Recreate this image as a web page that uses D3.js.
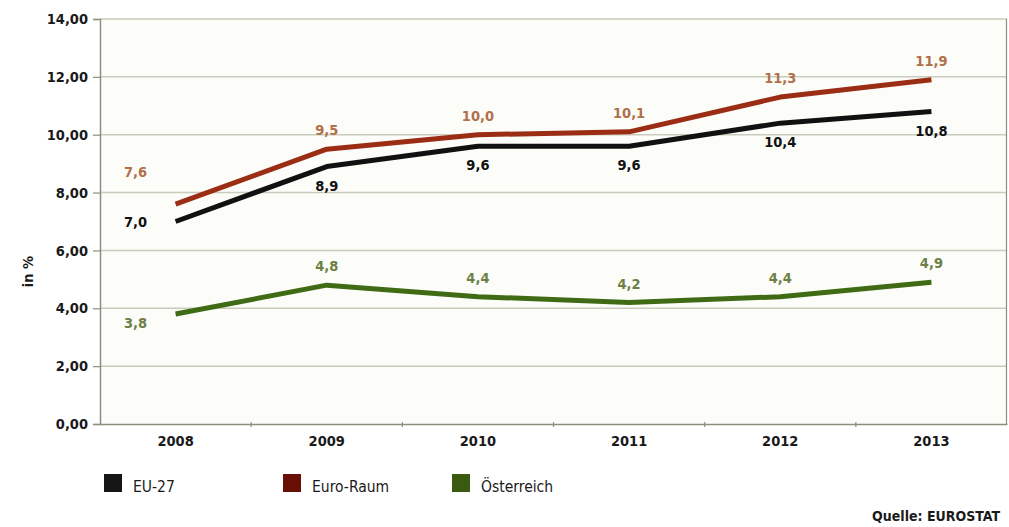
<!DOCTYPE html>
<html>
<head>
<meta charset="utf-8">
<script src="https://cdn.jsdelivr.net/npm/d3@7"></script>
<style>
  html, body { margin: 0; padding: 0; background: #ffffff; }
  svg { display: block; }
  text { font-family: "DejaVu Sans Condensed", "DejaVu Sans", sans-serif; font-weight: bold; }
</style>
</head>
<body>
<svg id="chart" width="1009" height="527"></svg>
<script>
// Arbeitslosenquote 2008–2013 (in %)
const years = ["2008", "2009", "2010", "2011", "2012", "2013"];
const eu27 = [7.0, 8.9, 9.6, 9.6, 10.4, 10.8];
const euroRaum = [7.6, 9.5, 10.0, 10.1, 11.3, 11.9];
const oesterreich = [3.8, 4.8, 4.4, 4.2, 4.4, 4.9];
const yTicks = [0, 2, 4, 6, 8, 10, 12, 14];
const seriesNames = ["EU-27", "Euro-Raum", "Österreich"];

const svg = d3.select("#chart");
const margin = { left: 100, right: 2, top: 19, bottom: 103 };
const W = 1009, H = 527;
const plotW = W - margin.left - margin.right;
const plotH = H - margin.top - margin.bottom;

const x = d3.scaleBand().domain(years).range([margin.left, margin.left + plotW]);
const y = d3.scaleLinear().domain([0, 14]).range([margin.top + plotH, margin.top]);
const cx = d => x(d) + x.bandwidth() / 2;
const fmt = v => d3.format(".1f")(v).replace(".", ",");
const fmtAxis = v => d3.format(".2f")(v).replace(".", ",");

// plot background
svg.append("rect")
  .attr("x", margin.left).attr("y", margin.top)
  .attr("width", plotW).attr("height", plotH)
  .attr("fill", "#fcfcf9");

// horizontal gridlines
svg.append("g")
  .selectAll("line")
  .data(yTicks.filter(t => t > 0))
  .join("line")
  .attr("x1", margin.left).attr("x2", margin.left + plotW)
  .attr("y1", d => y(d)).attr("y2", d => y(d))
  .attr("stroke", "#c9cbbd").attr("stroke-width", 1.5);

// right border
svg.append("line")
  .attr("x1", margin.left + plotW - 0.5).attr("x2", margin.left + plotW - 0.5)
  .attr("y1", margin.top).attr("y2", margin.top + plotH)
  .attr("stroke", "#8c8f80").attr("stroke-width", 1.2);

// y axis
const yAxis = svg.append("g")
  .attr("transform", `translate(${margin.left},0)`)
  .call(d3.axisLeft(y).tickValues(yTicks).tickFormat(fmtAxis).tickSize(7).tickPadding(5));
yAxis.select(".domain").attr("stroke", "#8c8f80").attr("stroke-width", 1.5);
yAxis.selectAll(".tick line").attr("stroke", "#8c8f80").attr("stroke-width", 1.2);
yAxis.selectAll("text")
  .attr("fill", "#1a1a1a").style("font-size", "14.5px");

// x axis with ticks at category boundaries
const xAxis = svg.append("g")
  .attr("transform", `translate(0,${margin.top + plotH})`)
  .call(d3.axisBottom(x).tickSize(0).tickPadding(12));
xAxis.select(".domain").attr("stroke", "#8c8f80").attr("stroke-width", 1.5);
xAxis.selectAll("text").attr("fill", "#1a1a1a").style("font-size", "14.5px");
xAxis.selectAll("line.boundary")
  .data(years.slice(1))
  .join("line")
  .attr("class", "boundary")
  .attr("x1", d => x(d)).attr("x2", d => x(d))
  .attr("y1", -2).attr("y2", 3)
  .attr("stroke", "#8c8f80").attr("stroke-width", 1.2);

// y axis title
svg.append("text")
  .attr("transform", `translate(33,${margin.top + plotH / 2 + 50}) rotate(-90)`)
  .attr("text-anchor", "middle")
  .attr("fill", "#1a1a1a").style("font-size", "14.5px")
  .text("in %");

// series
const series = [
  { name: seriesNames[0], values: eu27, line: "#111111", label: "#111111", swatch: "#161616", side: "below" },
  { name: seriesNames[1], values: euroRaum, line: "#9b2d14", label: "#b0704a", swatch: "#6a0f06", side: "above" },
  { name: seriesNames[2], values: oesterreich, line: "#3f6b14", label: "#6c7f45", swatch: "#3a5a10", side: "above" }
];

const line = d3.line().x((d, i) => cx(years[i])).y(d => y(d));

svg.append("g")
  .selectAll("path")
  .data(series)
  .join("path")
  .attr("d", s => line(s.values))
  .attr("fill", "none")
  .attr("stroke", s => s.line)
  .attr("stroke-width", 5)
  .attr("stroke-linejoin", "round");

// value labels
series.forEach((s, si) => {
  svg.append("g")
    .selectAll("text")
    .data(s.values)
    .join("text")
    .attr("x", (d, i) => i === 0 ? cx(years[i]) - 40 : cx(years[i]))
    .attr("y", (d, i) => {
      if (i === 0) {
        if (si === 0) return y(d) + 5;
        if (si === 1) return y(d) - 27;
        return y(d) + 14;
      }
      return s.side === "above" ? y(d) - 14 : y(d) + 24;
    })
    .attr("text-anchor", "middle")
    .attr("fill", s.label)
    .style("font-size", "14.5px")
    .text(fmt);
});

// legend
const legendX = [104, 283, 452];
const legend = svg.append("g");
series.forEach((s, i) => {
  legend.append("rect")
    .attr("x", legendX[i]).attr("y", 474)
    .attr("width", 18).attr("height", 18)
    .attr("fill", s.swatch);
  legend.append("text")
    .attr("x", legendX[i] + 29).attr("y", 492)
    .attr("fill", "#1a1a1a").style("font-size", "15.5px")
    .style("font-weight", "normal")
    .text(s.name);
});

// source
svg.append("text")
  .attr("x", 1000).attr("y", 521)
  .attr("text-anchor", "end")
  .attr("fill", "#1a1a1a").style("font-size", "14px")
  .text("Quelle: EUROSTAT");
</script>
</body>
</html>
